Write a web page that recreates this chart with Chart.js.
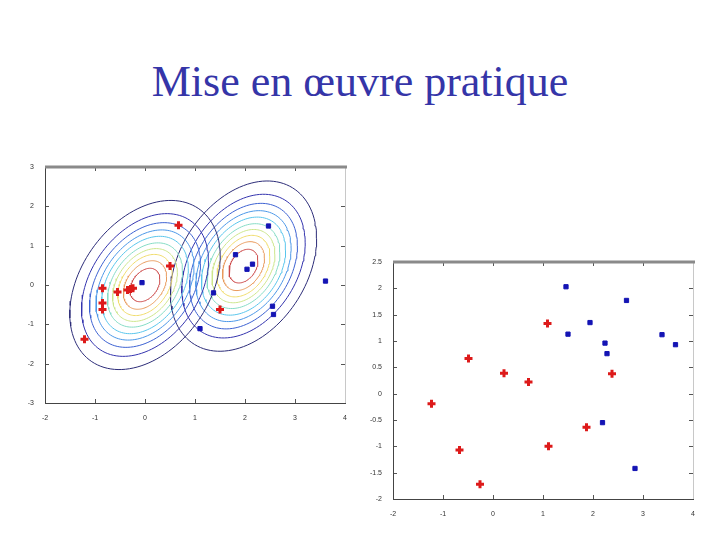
<!DOCTYPE html>
<html>
<head>
<meta charset="utf-8">
<script src="https://cdn.jsdelivr.net/npm/chart.js@4.4.0/dist/chart.umd.min.js"></script>
<style>
  body { margin: 0; background: #fff; width: 720px; height: 540px; position: relative; overflow: hidden; }
  #title { position: absolute; left: 0; width: 720px; top: 60px; text-align: center;
           font-family: "Liberation Serif", "DejaVu Serif", serif; font-size: 44px; line-height: 44px; color: #3535a8; }
  canvas { position: absolute; }
</style>
</head>
<body>
<div id="title">Mise en œuvre pratique</div>
<canvas id="contourChart" width="345" height="270" style="left:15px; top:155px;"></canvas>
<canvas id="scatterChart" width="345" height="271" style="left:363px; top:250px;"></canvas>
<script>
// left plot: points of the two classes
const leftRedX = [0.67, 0.5, -0.85, -0.55, -0.35, -0.29, -0.24, -0.85, -0.85, -1.21, 1.5];
const leftRedY = [1.52, 0.48, -0.08, -0.18, -0.13, -0.10, -0.08, -0.46, -0.62, -1.38, -0.62];
const leftBlueX = [-0.06, 1.37, 1.1, 2.47, 1.81, 2.15, 2.04, 3.61, 2.55, 2.57];
const leftBlueY = [0.06, -0.2, -1.11, 1.5, 0.77, 0.53, 0.4, 0.1, -0.54, -0.75];

// left plot: the two gaussian components (mean x, mean y) and (sxx, sxy, syy)
const compMeans = [[0.0, 0.0], [1.97, 0.48]];
const compCovs = [[0.47, 0.23, 0.96], [0.444, 0.214, 0.973]];
// contour levels as fraction of the peak density, outer to inner
const levelFractions = [0.09, 0.18, 0.27, 0.36, 0.45, 0.55, 0.64, 0.73, 0.82, 0.91];
const levelColors = ['#2c2c78', '#3434ae', '#3d62d2', '#4c98e8', '#5ac6ec', '#86dcc6', '#cde68c', '#f0dc6c', '#e89a5c', '#cc4a4a'];

// right plot: new points
const rightRedX = [-0.49, 0.22, 0.71, 1.09, 2.38, -1.23, -0.67, -0.26, 1.11, 1.87];
const rightRedY = [0.67, 0.39, 0.22, 1.33, 0.38, -0.19, -1.07, -1.72, -1.0, -0.64];
const rightBlueX = [1.46, 1.5, 1.94, 2.67, 2.24, 2.28, 3.38, 3.65, 2.19, 2.84];
const rightBlueY = [2.03, 1.13, 1.35, 1.77, 0.96, 0.76, 1.12, 0.93, -0.55, -1.42];

const xTicks = [-2, -1, 0, 1, 2, 3, 4];
const leftYTicks = [-3, -2, -1, 0, 1, 2, 3];
const rightYTicks = [-2, -1.5, -1, -0.5, 0, 0.5, 1, 1.5, 2, 2.5];

function toPoints(xs, ys) {
    return xs.map((x, i) => ({x: x, y: ys[i]}));
}

// ellipse of one density level of a gaussian component
function ellipse(mean, cov, frac) {
    const r = Math.sqrt(-2 * Math.log(frac));
    const l11 = Math.sqrt(cov[0]);
    const l21 = cov[1] / l11;
    const l22 = Math.sqrt(cov[2] - l21 * l21);
    const pts = [];
    for (let i = 0; i <= 120; i++) {
        const t = i / 120 * 2 * Math.PI;
        const u = r * Math.cos(t), v = r * Math.sin(t);
        pts.push({x: mean[0] + l11 * u, y: mean[1] + l21 * u + l22 * v});
    }
    return pts;
}

// matlab style box: dark left/bottom, thick grey top, light right, inward ticks
const matlabBox = {
    id: 'matlabBox',
    afterDatasetsDraw(chart) {
        const ctx = chart.ctx, a = chart.chartArea;
        const xs = chart.scales.x, ys = chart.scales.y;
        ctx.save();
        ctx.lineWidth = 1;
        ctx.strokeStyle = '#555';
        ctx.beginPath();
        xs.ticks.forEach(t => {
            const px = Math.round(xs.getPixelForValue(t.value)) + 0.5;
            ctx.moveTo(px, a.bottom); ctx.lineTo(px, a.bottom - 4);
            ctx.moveTo(px, a.top); ctx.lineTo(px, a.top + 4);
        });
        ys.ticks.forEach(t => {
            const py = Math.round(ys.getPixelForValue(t.value)) + 0.5;
            ctx.moveTo(a.left, py); ctx.lineTo(a.left + 4, py);
            ctx.moveTo(a.right, py); ctx.lineTo(a.right - 4, py);
        });
        ctx.stroke();
        ctx.strokeStyle = '#c8c8c8';
        ctx.beginPath();
        ctx.moveTo(Math.round(a.right) + 0.5, a.top); ctx.lineTo(Math.round(a.right) + 0.5, a.bottom);
        ctx.stroke();
        ctx.strokeStyle = '#444';
        ctx.beginPath();
        ctx.moveTo(Math.round(a.left) + 0.5, a.top); ctx.lineTo(Math.round(a.left) + 0.5, Math.round(a.bottom) + 0.5);
        ctx.lineTo(a.right + 1, Math.round(a.bottom) + 0.5);
        ctx.stroke();
        ctx.strokeStyle = '#8a8a8a';
        ctx.lineWidth = 3;
        ctx.beginPath();
        ctx.moveTo(a.left, a.top); ctx.lineTo(a.right + 2, a.top);
        ctx.stroke();
        ctx.restore();
    }
};

function makeOptions(yMin, yMax, yTicks) {
    const tickFont = {family: 'Liberation Sans, Arial, sans-serif', size: 7};
    return {
        responsive: false,
        animation: false,
        layout: {padding: {top: 12, right: 15, left: 0, bottom: 0}},
        plugins: {legend: {display: false}, tooltip: {enabled: false}},
        scales: {
            x: {
                type: 'linear', min: -2, max: 4,
                afterBuildTicks: s => { s.ticks = xTicks.map(v => ({value: v})); },
                afterFit: s => { s.height = 22; },
                grid: {display: false},
                border: {display: false},
                ticks: {font: tickFont, color: '#333', padding: 3, maxRotation: 0,
                        callback: v => String(v)}
            },
            y: {
                type: 'linear', min: yMin, max: yMax,
                afterBuildTicks: s => { s.ticks = yTicks.map(v => ({value: v})); },
                afterFit: s => { s.width = 30; },
                grid: {display: false},
                border: {display: false},
                ticks: {font: tickFont, color: '#333', padding: 3, callback: v => String(v)}
            }
        }
    };
}

function redSet(points) {
    return {type: 'scatter', data: points, pointStyle: 'cross', pointRadius: 4,
            borderWidth: 3, borderColor: '#dd1a1a', backgroundColor: '#dd1a1a', order: 0};
}
function blueSet(points) {
    return {type: 'scatter', data: points, pointStyle: 'rect', pointRadius: 3,
            borderWidth: 1, borderColor: '#1414b4', backgroundColor: '#1414b4', order: 0};
}

/* contour chart */
const contourSets = [];
compMeans.forEach((m, c) => {
    levelFractions.forEach((f, i) => {
        contourSets.push({type: 'scatter', data: ellipse(m, compCovs[c], f), showLine: true,
                          pointRadius: 0, borderWidth: 1, borderColor: levelColors[i], order: 1});
    });
});
new Chart(document.getElementById('contourChart'), {
    type: 'scatter',
    data: {datasets: contourSets.concat([
        redSet(toPoints(leftRedX, leftRedY)),
        blueSet(toPoints(leftBlueX, leftBlueY))
    ])},
    options: makeOptions(-3, 3, leftYTicks),
    plugins: [matlabBox]
});

/* scatter chart */
new Chart(document.getElementById('scatterChart'), {
    type: 'scatter',
    data: {datasets: [
        redSet(toPoints(rightRedX, rightRedY)),
        blueSet(toPoints(rightBlueX, rightBlueY))
    ]},
    options: makeOptions(-2, 2.5, rightYTicks),
    plugins: [matlabBox]
});
</script>
</body>
</html>
